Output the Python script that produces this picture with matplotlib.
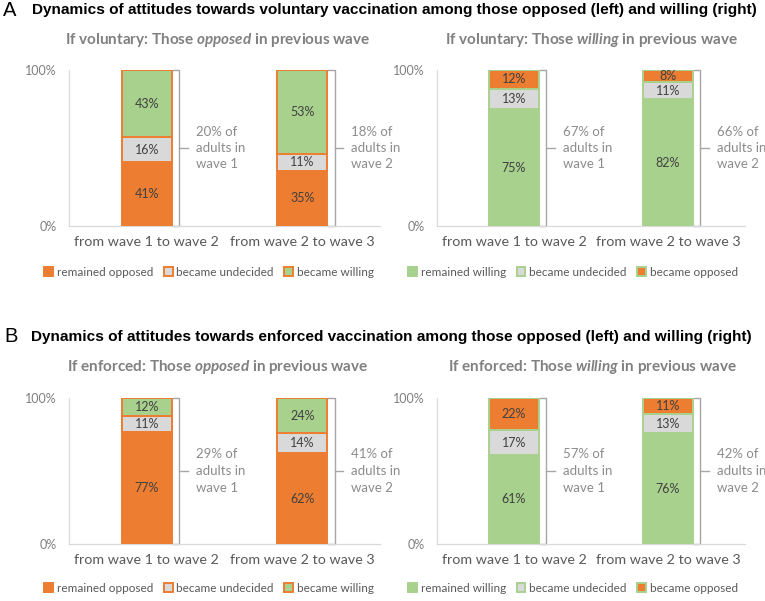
import matplotlib
matplotlib.use("Agg")
import matplotlib.pyplot as plt
from matplotlib.patches import Patch
import numpy as np

plt.rcParams['font.family'] = ['Lato', 'DejaVu Sans']
plt.rcParams['mathtext.fontset'] = 'custom'
plt.rcParams['mathtext.it'] = 'Lato:italic:bold'
plt.rcParams['mathtext.rm'] = 'Lato:bold'

# ---------------- data ----------------
categories = ["from wave 1 to wave 2", "from wave 2 to wave 3"]
waves = ["wave 1", "wave 2"]

# Panel A (voluntary)
a_opp_remained = [41, 35]
a_opp_undecided = [16, 11]
a_opp_willing = [43, 53]
a_opp_share = ["20%", "18%"]

a_wil_remained = [75, 82]
a_wil_undecided = [13, 11]
a_wil_opposed = [12, 8]
a_wil_share = ["67%", "66%"]

# Panel B (enforced)
b_opp_remained = [77, 62]
b_opp_undecided = [11, 14]
b_opp_willing = [12, 24]
b_opp_share = ["29%", "41%"]

b_wil_remained = [61, 76]
b_wil_undecided = [17, 13]
b_wil_opposed = [22, 11]
b_wil_share = ["57%", "42%"]

legend_opp = ["remained opposed", "became undecided", "became willing"]
legend_wil = ["remained willing", "became undecided", "became opposed"]

ORANGE = "#ED7D31"
GREEN = "#A9D18E"
GRAY = "#D9D9D9"

W, H = 765, 601
fig = plt.figure(figsize=(W / 100, H / 100), dpi=100)


def ax_at(x0, x1, ytop, ybot):
    return fig.add_axes([x0 / W, 1 - ybot / H, (x1 - x0) / W, (ybot - ytop) / H])


def fx(x):
    return x / W


def fy(y):
    return 1 - y / H


def draw_panel(ax, segs, colors, edge, shares):
    x = np.arange(len(categories))
    bw = 0.32
    totals = np.sum(segs, axis=0)
    bottom = np.zeros(len(categories))
    for vals, col in zip(segs, colors):
        h = np.array(vals) / totals * 100
        ax.bar(x, h, bw, bottom=bottom, color=col, edgecolor=edge,
               linewidth=1.4, zorder=3)
        for xi, hi, bi, v in zip(x, h, bottom, vals):
            ax.text(xi, bi + hi / 2, f"{v}%", ha='center', va='center',
                    fontsize=9, color="#404040", zorder=4)
        bottom = bottom + h
    # brackets
    for xi, share, wv in zip(x, shares, waves):
        xr = xi + bw / 2
        x0 = xr + 0.008
        x1 = xr + 0.05
        x2 = x1 + 0.055
        ax.plot([x0, x1, x1, x0], [100, 100, 0, 0], color="#A6A6A6",
                lw=1.0, zorder=2, clip_on=False)
        ax.plot([x1, x2], [50, 50], color="#A6A6A6", lw=1.0, clip_on=False)
        ax.text(xr + 0.155, 50, f"{share} of\nadults in\n{wv}", ha='left',
                va='center', fontsize=9.5, color="#8C8C8C", linespacing=1.45)
    ax.set_xlim(-0.5, 1.5)
    ax.set_ylim(0, 100)
    ax.set_yticks([0, 100])
    ax.set_yticklabels(["0%", "100%"])
    ax.set_xticks(x)
    ax.set_xticklabels(categories)
    ax.tick_params(axis='y', length=0, pad=8.6, labelsize=9, labelcolor="#7F7F7F")
    ax.tick_params(axis='x', length=0, pad=7.5, labelsize=10.3, labelcolor="#595959")
    for s in ["top", "right"]:
        ax.spines[s].set_visible(False)
    for s in ["left", "bottom"]:
        ax.spines[s].set_color("#D9D9D9")
        ax.spines[s].set_linewidth(0.9)


def add_legend(xc, y, labels, colors, edge):
    handles = [Patch(facecolor=c, edgecolor=edge, linewidth=1.4) for c in colors]
    fig.legend(handles, labels, loc='center', bbox_to_anchor=(fx(xc), fy(y)),
               ncol=3, frameon=False, fontsize=8.5, labelcolor="#595959",
               handlelength=0.75, handleheight=0.75, handletextpad=0.3,
               columnspacing=0.9, borderaxespad=0)


# geometry
LX0, LX1 = 69, 380
RX0, RX1 = 437, 745
A_TOP, A_BOT = 70, 226
B_TOP, B_BOT = 398, 544

axes_specs = [
    ((LX0, LX1, A_TOP, A_BOT), [a_opp_remained, a_opp_undecided, a_opp_willing],
     [ORANGE, GRAY, GREEN], ORANGE, a_opp_share),
    ((RX0, RX1, A_TOP, A_BOT), [a_wil_remained, a_wil_undecided, a_wil_opposed],
     [GREEN, GRAY, ORANGE], GREEN, a_wil_share),
    ((LX0, LX1, B_TOP, B_BOT), [b_opp_remained, b_opp_undecided, b_opp_willing],
     [ORANGE, GRAY, GREEN], ORANGE, b_opp_share),
    ((RX0, RX1, B_TOP, B_BOT), [b_wil_remained, b_wil_undecided, b_wil_opposed],
     [GREEN, GRAY, ORANGE], GREEN, b_wil_share),
]
for (geom, segs, cols, edge, shares) in axes_specs:
    ax = ax_at(*geom)
    draw_panel(ax, segs, cols, edge, shares)

# legends
add_legend(209, 272, legend_opp, [ORANGE, GRAY, GREEN], ORANGE)
add_legend(573, 272, legend_wil, [GREEN, GRAY, ORANGE], GREEN)
add_legend(209, 588, legend_opp, [ORANGE, GRAY, GREEN], ORANGE)
add_legend(573, 588, legend_wil, [GREEN, GRAY, ORANGE], GREEN)

# titles
TF = ['Liberation Sans', 'DejaVu Sans']
fig.text(fx(3), fy(10), "A", fontsize=14.5, family=TF, va='center', ha='left')
fig.text(fx(32), fy(10),
         "Dynamics of attitudes towards voluntary vaccination among those opposed (left) and willing (right)",
         fontsize=11.1, family=TF, fontweight='bold', va='center', ha='left')
fig.text(fx(4), fy(337), "B", fontsize=14.5, family=TF, va='center', ha='left')
fig.text(fx(31), fy(337),
         "Dynamics of attitudes towards enforced vaccination among those opposed (left) and willing (right)",
         fontsize=11.1, family=TF, fontweight='bold', va='center', ha='left')

SUB = dict(fontsize=11, fontweight='bold', color="#808080", va='center', ha='center')
fig.text(fx(218), fy(40), r"If voluntary: Those $opposed$ in previous wave", **SUB)
fig.text(fx(592), fy(40), r"If voluntary: Those $willing$ in previous wave", **SUB)
fig.text(fx(218), fy(367), r"If enforced: Those $opposed$ in previous wave", **SUB)
fig.text(fx(592), fy(367), r"If enforced: Those $willing$ in previous wave", **SUB)

fig.savefig("out.png", dpi=100, facecolor="white")
